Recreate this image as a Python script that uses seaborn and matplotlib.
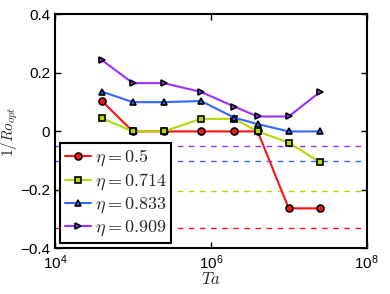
import seaborn as sns
import matplotlib.pyplot as plt
import pandas as pd

# Data
ta = [4e4, 1e5, 2.5e5, 7.5e5, 2e6, 4e6, 1e7, 2.5e7]
eta_labels = ['0.5', '0.714', '0.833', '0.909']
ro_05 = [0.104, 0.0, 0.0, 0.0, 0.0, 0.0, -0.263, -0.263]
ro_0714 = [0.045, 0.0, 0.0, 0.043, 0.043, 0.0, -0.038, -0.105]
ro_0833 = [0.136, 0.1, 0.1, 0.104, 0.047, 0.025, 0.0, 0.0]
ro_0909 = [0.244, 0.165, 0.165, 0.135, 0.085, 0.051, 0.051, 0.134]
limits = [-0.331, -0.202, -0.1, -0.05]  # dashed reference levels

colors = ['#ff1010', '#b5d800', '#3366ff', '#9b30ff']
markers = ['o', 's', '^', '>']

frames = []
for lab, vals in zip(eta_labels, [ro_05, ro_0714, ro_0833, ro_0909]):
    frames.append(pd.DataFrame({'Ta': ta, 'ro': vals, 'eta': lab}))
df = pd.concat(frames, ignore_index=True)

sns.set_style('ticks')
plt.rcParams['font.family'] = ['Liberation Sans', 'DejaVu Sans']
plt.rcParams['mathtext.fontset'] = 'cm'

fig = plt.figure(figsize=(3.9, 2.94), dpi=100)
ax = fig.add_axes([0.141, 0.155, 0.799, 0.796])

# dashed limit lines
for lev, col in zip(limits, colors):
    ax.axhline(lev, color=col, linestyle=(0, (4, 4)), linewidth=1.0, zorder=1)

for lab, col, mk in zip(eta_labels, colors, markers):
    sub = df[df['eta'] == lab]
    sns.lineplot(data=sub, x='Ta', y='ro', color=col, marker=mk, markersize=5,
                 markeredgecolor='black', markeredgewidth=1.2, linewidth=1.5,
                 label=r'$\eta = ' + lab + '$', ax=ax, zorder=3)

ax.set_xscale('log')
ax.set_xlim(1e4, 1e8)
ax.set_ylim(-0.4, 0.4)
ax.set_xticks([1e4, 1e6, 1e8])
ax.minorticks_off()
ax.set_yticks([-0.4, -0.2, 0, 0.2, 0.4])
ax.set_yticklabels(['\u22120.4', '\u22120.2', '0', '0.2', '0.4'])
ax.tick_params(direction='in', length=4, width=1, labelsize=11,
               top=True, right=True, colors='black')
for sp in ax.spines.values():
    sp.set_visible(True)
    sp.set_linewidth(1.5)
    sp.set_color('black')

ax.set_xlabel('$Ta$', fontsize=12, labelpad=-1)
ax.set_ylabel('$1/Ro_{opt}$', fontsize=11, labelpad=0)

leg = ax.legend(loc='lower left', fontsize=13, frameon=True, fancybox=False,
                edgecolor='black', framealpha=1, handlelength=1.45,
                borderpad=0.25, labelspacing=0.2, handletextpad=0.2,
                borderaxespad=0.3)
leg.get_frame().set_linewidth(1.5)

fig.savefig('out.png', dpi=100)
